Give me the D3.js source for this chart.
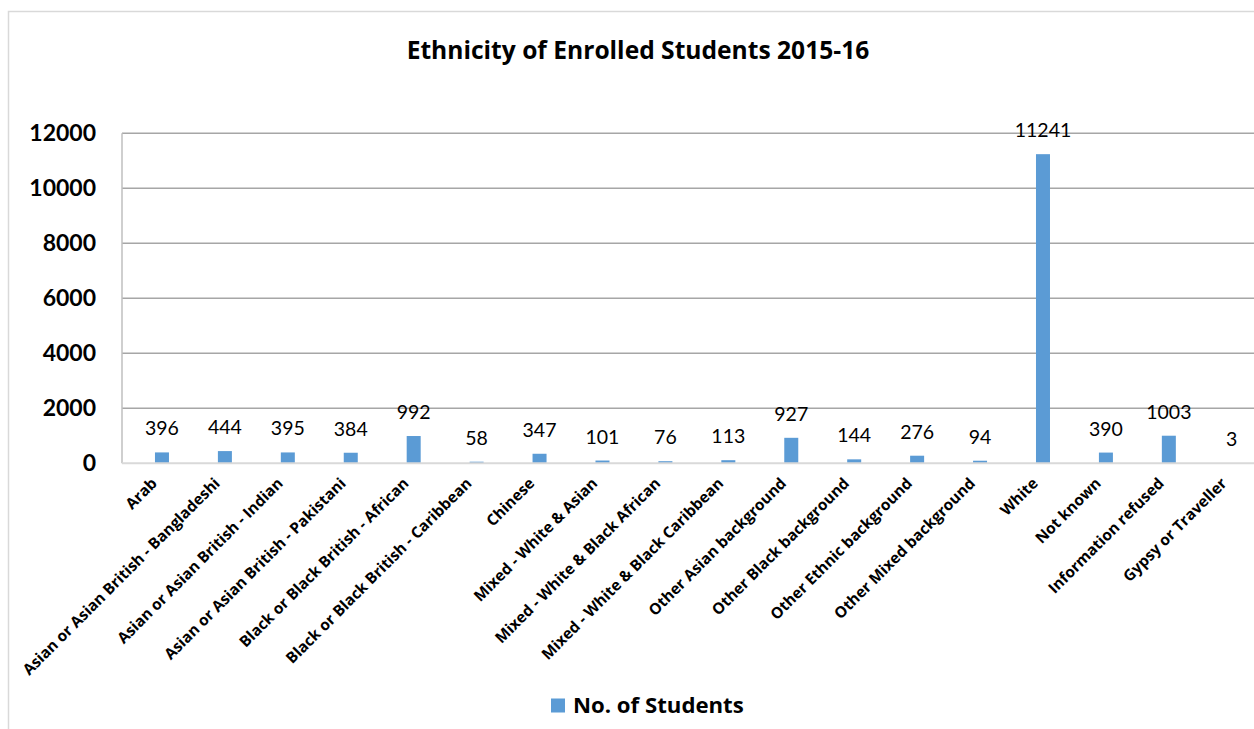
<!DOCTYPE html>
<html>
<head>
<meta charset="utf-8">
<script src="https://cdn.jsdelivr.net/npm/d3@7"></script>
<style>
  html, body { margin: 0; padding: 0; background: #fff; }
  svg { display: block; }
</style>
</head>
<body>
<svg id="chart" width="1254" height="729"></svg>
<script>
// Ethnic groups and enrolment counts
const categories = [
  "Arab",
  "Asian or Asian British - Bangladeshi",
  "Asian or Asian British - Indian",
  "Asian or Asian British - Pakistani",
  "Black or Black British - African",
  "Black or Black British - Caribbean",
  "Chinese",
  "Mixed - White & Asian",
  "Mixed - White & Black African",
  "Mixed - White & Black Caribbean",
  "Other Asian background",
  "Other Black background",
  "Other Ethnic background",
  "Other Mixed background",
  "White",
  "Not known",
  "Information refused",
  "Gypsy or Traveller"
];
const students = [396, 444, 395, 384, 992, 58, 347, 101, 76, 113, 927, 144, 276, 94, 11241, 390, 1003, 3];
const yTicks = [0, 2000, 4000, 6000, 8000, 10000, 12000];

const titleText = "Ethnicity of Enrolled Students 2015-16";
const seriesName = "No. of Students";

const NUM_FONT = "Lato, 'Open Sans', sans-serif";
const TXT_FONT = "'Open Sans', Lato, sans-serif";
const BAR = "#5b9bd5";

const svg = d3.select("#chart");

// outer chart frame (runs past the right and bottom edges)
svg.append("rect")
  .attr("x", 8.5).attr("y", 11.5)
  .attr("width", 1400).attr("height", 900)
  .attr("fill", "#fff")
  .attr("stroke", "#d9d9d9")
  .attr("stroke-width", 1.5);

const plotLeft = 122, plotRight = 1300;
const x = d3.scaleBand()
  .domain(categories)
  .range([130.5, 130.5 + categories.length * 62.93])
  .padding(0);
const y = d3.scaleLinear().domain([0, 12000]).range([463.3, 133.3]);

// horizontal gridlines
svg.append("g")
  .selectAll("line")
  .data(yTicks.filter(d => d > 0))
  .join("line")
  .attr("x1", plotLeft).attr("x2", plotRight)
  .attr("y1", d => y(d)).attr("y2", d => y(d))
  .attr("stroke", "#a6a6a6")
  .attr("stroke-width", 1.5);

// vertical value axis line
svg.append("line")
  .attr("x1", plotLeft).attr("x2", plotLeft)
  .attr("y1", y(12000)).attr("y2", y(0))
  .attr("stroke", "#bfbfbf")
  .attr("stroke-width", 1.5);

// value axis labels
const yAxis = d3.axisLeft(y).tickValues(yTicks).tickSize(0).tickPadding(26).tickFormat(d3.format("d"));
const gy = svg.append("g").attr("transform", `translate(${plotLeft},0)`).call(yAxis);
gy.select(".domain").remove();
gy.selectAll("text")
  .attr("font-family", NUM_FONT)
  .attr("font-weight", "bold")
  .attr("font-size", 23)
  .attr("fill", "#000");

// bars
const barW = 14;
svg.append("g")
  .selectAll("rect")
  .data(categories)
  .join("rect")
  .attr("x", (d) => x(d) + x.bandwidth() / 2 - barW / 2)
  .attr("y", (d, i) => y(students[i]))
  .attr("width", barW)
  .attr("height", (d, i) => y(0) - y(students[i]))
  .attr("fill", BAR);

// category axis baseline
svg.append("line")
  .attr("x1", plotLeft).attr("x2", plotRight)
  .attr("y1", y(0)).attr("y2", y(0))
  .attr("stroke", "#d9d9d9")
  .attr("stroke-width", 2);

// value labels
svg.append("g")
  .selectAll("text")
  .data(categories)
  .join("text")
  .attr("x", d => x(d) + x.bandwidth() / 2)
  .attr("y", (d, i) => y(students[i]) - 17)
  .attr("text-anchor", "middle")
  .attr("font-family", NUM_FONT)
  .attr("font-size", 19.5)
  .attr("fill", "#000")
  .text((d, i) => students[i]);

// rotated category labels
const xAxis = d3.axisBottom(x).tickSize(0).tickPadding(0);
const gx = svg.append("g").attr("transform", `translate(0,${y(0)})`).call(xAxis);
gx.select(".domain").remove();
gx.selectAll(".tick text")
  .attr("font-family", TXT_FONT)
  .attr("font-weight", "bold")
  .attr("font-size", 15.4)
  .attr("fill", "#000")
  .attr("text-anchor", "end")
  .attr("dy", null)
  .attr("y", 0)
  .attr("transform", "translate(-4,21) rotate(-45)");

// title
svg.append("text")
  .attr("x", 638).attr("y", 58.5)
  .attr("text-anchor", "middle")
  .attr("font-family", TXT_FONT)
  .attr("font-weight", "bold")
  .attr("font-size", 24.6)
  .attr("fill", "#000")
  .text(titleText);

// legend
const lg = svg.append("g");
lg.append("rect")
  .attr("x", 551).attr("y", 698.5)
  .attr("width", 14).attr("height", 14)
  .attr("fill", BAR);
lg.append("text")
  .attr("x", 573).attr("y", 713)
  .attr("font-family", TXT_FONT)
  .attr("font-weight", "bold")
  .attr("font-size", 22.2)
  .attr("fill", "#000")
  .text(seriesName);
</script>
</body>
</html>
